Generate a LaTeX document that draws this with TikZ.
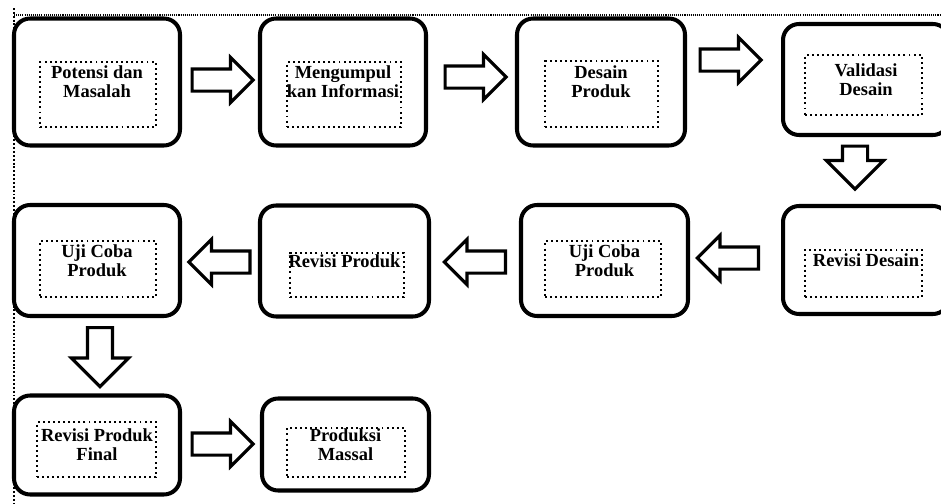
\documentclass[tikz,border=0pt]{standalone}
\usepackage{fontspec}
\setmainfont{Liberation Serif}
\usetikzlibrary{shapes.arrows}

\tikzset{
    kotak/.style={draw, line width=2.3pt, rounded corners=0.32cm, align=center,
        font=\bfseries\fontsize{10.5}{10.8}\selectfont},
    isi/.style={draw, line width=1.1pt, dash pattern=on 1.1pt off 1.8pt},
    panah/.style={draw, line width=1.8pt, single arrow, anchor=tail, inner xsep=0pt, inner ysep=0.19cm,
        single arrow head extend=0.23cm, minimum height=1.22cm, minimum width=0.84cm},
    turun/.style={panah, rotate=-90, inner ysep=0.22cm, single arrow head extend=0.32cm,
        minimum width=1.08cm}
}

\begin{document}
\begin{tikzpicture}[x=0.02cm, y=-0.02cm]
        \useasboundingbox (0,0) rectangle (941,504);

        % garis tepi
        \draw[line width=1pt, dash pattern=on 0.6pt off 0.6pt] (14,15) -- (941,15);
        \draw[line width=1.1pt, dash pattern=on 1.1pt off 1.1pt] (14,8) -- (14,504);

        % baris 1
        \node[kotak, minimum width=3.32cm, minimum height=2.54cm] (b1) at (97,82) {Potensi dan\\Masalah};
        \node[isi, minimum width=2.32cm, minimum height=1.3cm] (i1) at (98,94.5) {};
        \node[kotak, minimum width=3.32cm, minimum height=2.54cm] (b2) at (343,82) {Mengumpul\\kan Informasi};
        \node[isi, minimum width=2.28cm, minimum height=1.3cm] (i2) at (344,94.5) {};
        \node[kotak, minimum width=3.36cm, minimum height=2.54cm] (b3) at (601,82) {Desain\\Produk};
        \node[isi, minimum width=2.26cm, minimum height=1.32cm] (i3) at (601.5,94) {};
        \node[kotak, minimum width=3.32cm, minimum height=2.22cm] (b4) at (866,79.5) {Validasi\\Desain};
        \node[isi, minimum width=2.34cm, minimum height=1.2cm] (i4) at (863.5,85) {};

        % baris 2
        \node[kotak, minimum width=3.32cm, minimum height=2.16cm] (b5) at (866,260) {Revisi Desain};
        \node[isi, minimum width=2.34cm, minimum height=0.94cm] (i5) at (863.5,273.5) {};
        \node[kotak, minimum width=3.34cm, minimum height=2.22cm] (b6) at (604.5,260.5) {Uji Coba\\Produk};
        \node[isi, minimum width=2.32cm, minimum height=1.12cm] (i6) at (603,269) {};
        \node[kotak, minimum width=3.38cm, minimum height=2.22cm] (b7) at (344.5,261) {Revisi Produk};
        \node[isi, minimum width=2.28cm, minimum height=0.88cm] (i7) at (347,275) {};
        \node[kotak, minimum width=3.32cm, minimum height=2.22cm] (b8) at (97,260.5) {Uji Coba\\Produk};
        \node[isi, minimum width=2.32cm, minimum height=1.12cm] (i8) at (98,269) {};

        % baris 3
        \node[kotak, minimum width=3.32cm, minimum height=1.98cm] (b9) at (97,445) {Revisi Produk\\Final};
        \node[isi, minimum width=2.38cm, minimum height=1.1cm] (i9) at (96.5,449.5) {};
        \node[kotak, minimum width=3.34cm, minimum height=1.84cm] (b10) at (345.5,444.5) {Produksi\\Massal};
        \node[isi, minimum width=2.36cm, minimum height=0.98cm] (i10) at (346,452.5) {};

        % panah
        \node[panah] (a1) at (190.5,80) {};
        \node[panah] (a2) at (443.5,77) {};
        \node[panah] (a3) at (698.5,60) {};
        \node[turun, minimum height=0.86cm] (a4) at (855,144.5) {};
        \node[panah, rotate=180] (a5) at (760,258) {};
        \node[panah, rotate=180] (a6) at (507,262) {};
        \node[panah, rotate=180] (a7) at (251.5,262) {};
        \node[turun, minimum height=1.18cm] (a8) at (100,326) {};
        \node[panah] (a9) at (190.5,444) {};
    \end{tikzpicture}
\end{document}
